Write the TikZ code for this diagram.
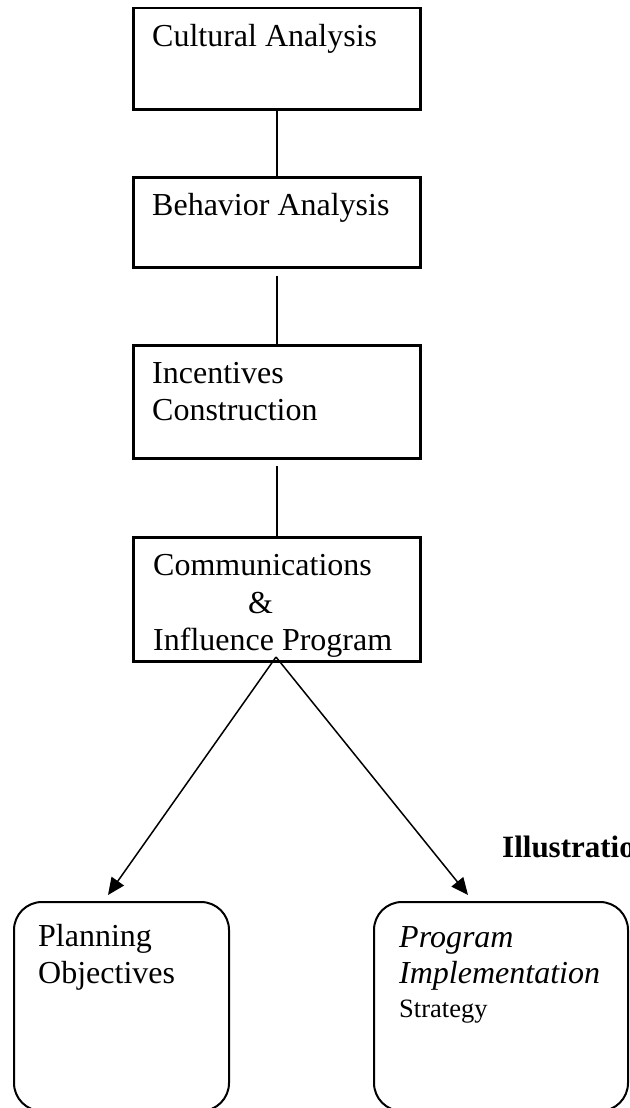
\documentclass[tikz,border=0pt]{standalone}
\usepackage{fontspec}
\setmainfont{Liberation Serif}
\usetikzlibrary{arrows.meta}
\begin{document}
\begin{tikzpicture}[x=1pt,y=-1pt,
  stagebox/.style={draw, line width=2.5pt, minimum width=287pt, inner sep=0pt,
    anchor=north west},
  outcomebox/.style={draw, line width=2pt, rounded corners=28pt, inner sep=0pt,
    anchor=north west, minimum height=209pt},
  label/.style={anchor=base west, inner sep=0pt, font=\fontsize{32}{37}\selectfont},
  small/.style={anchor=base west, inner sep=0pt, font=\fontsize{26.5}{30}\selectfont},
  link/.style={line width=2pt},
  flow/.style={line width=1.5pt, -{Triangle[length=17pt,width=15pt]}}
]
\useasboundingbox (0,0) rectangle (629,1108);
\begin{scope}
\clip (0,0) rectangle (629,1108);

% chain of analysis stages
\node[stagebox, minimum height=101pt] (b1) at (132,7) {};
\node[stagebox, minimum height=90pt]  (b2) at (132,176) {};
\node[stagebox, minimum height=113pt] (b3) at (132,344) {};
\node[stagebox, minimum height=124pt] (b4) at (132,536) {};

\node[label] (t1)  at (152,47)  {Cultural Analysis};
\node[label] (t2)  at (152,215) {Behavior Analysis};
\node[label] (t3a) at (152,383) {Incentives};
\node[label] (t3b) at (152,420) {Construction};
\node[label] (t4a) at (153,575) {Communications};
\node[label] (t4b) at (248,613) {\&};
\node[label] (t4c) at (153,650) {Influence Program};

\draw[link] (b1.south) -- (b2.north);
\draw[link, shorten <=7pt] (b2.south) -- (b3.north);
\draw[link, shorten <=6pt] (b3.south) -- (b4.north);

% outcomes
\node[outcomebox, minimum width=215pt] (o1) at (13,901) {};
\node[outcomebox, minimum width=254pt] (o2) at (373,901) {};

\node[label] (p1) at (38,946) {Planning};
\node[label] (p2) at (38,983) {Objectives};
\node[label] (q1) at (399,947) {\itshape Program};
\node[label] (q2) at (399,983) {\itshape Implementation};
\node[small] (q3) at (399,1017) {Strategy};

\node[anchor=base west, inner sep=0pt, font=\fontsize{31}{36}\selectfont\bfseries]
  (ill) at (502,857) {Illustration};

\coordinate (tipL) at (108,895);
\coordinate (tipR) at (468,895);
\coordinate (apex) at (276,657);
\draw[flow] (apex) -- (tipL);
\draw[flow] (apex) -- (tipR);
\end{scope}
\end{tikzpicture}
\end{document}
